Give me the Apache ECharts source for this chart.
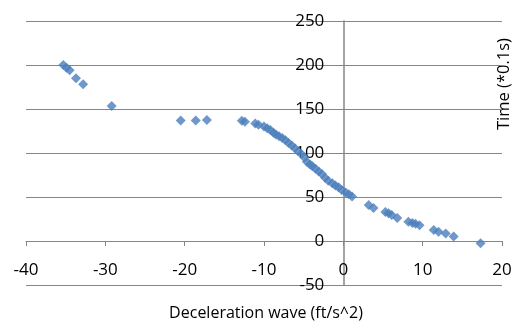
<!DOCTYPE html>
<html>
<head>
<meta charset="utf-8">
<script src="https://cdn.jsdelivr.net/npm/echarts@6/dist/echarts.min.js"></script>
<style>html,body{margin:0;padding:0;background:#fff;}#c{width:516px;height:329px;}</style>
</head>
<body>
<div id="c"></div>
<script>
// Deceleration wave (ft/s^2)
const decel = [
  -35.3, -34.9, -34.5, -33.7, -32.8, -29.2,
  -20.5, -18.6, -17.2,
  -12.8, -12.4, -11.1, -10.7, -10.0,
  -9.6, -9.2, -8.8, -8.5, -8.1, -7.7, -7.3, -6.9, -6.5, -6.1,
  -5.7, -5.3, -4.9,
  -4.6, -4.2, -3.9, -3.5, -3.1, -2.7, -2.3, -1.9,
  -1.4, -1.0, -0.6, -0.2, 0.3, 0.7, 1.1,
  3.2, 3.8, 5.3, 5.7, 6.1, 6.8,
  8.2, 8.7, 9.1, 9.6,
  11.4, 12.0, 12.9, 13.9, 17.3
];
// Time (*0.1s)
const timeVals = [
  200, 197, 194, 185, 178, 153.5,
  137, 137, 137.5,
  136.7, 135.5, 133.5, 132, 130,
  128, 126, 123, 121, 119, 117, 114.5, 111.5, 108.5, 105.5,
  102, 99, 95,
  90, 87, 85, 82, 79, 76, 72, 68.5,
  65.5, 63, 61, 58, 55, 53, 50.5,
  41, 37.5, 33, 31.5, 29.5, 26,
  22, 20.5, 19.5, 18,
  12.5, 10.6, 8.5, 5, -2.6
];
const xTicks = { min: -40, max: 20, interval: 10 };
const yTicks = { min: -50, max: 250, interval: 50 };
const xTitle = 'Deceleration wave (ft/s^2)';
const yTitle = 'Time (*0.1s)';

const points = decel.map((x, i) => [x, timeVals[i]]);
const FONT = 'Open Sans';
const W = 516, H = 329;
const G = { left: 26, right: 14, top: 21, bottom: 44 };
// axis crossing positions computed from the scales (value 0 on each axis)
const plotW = W - G.left - G.right, plotH = H - G.top - G.bottom;
const yAxisOffset = -plotW * (0 - xTicks.min) / (xTicks.max - xTicks.min);
const xAxisOffset = -plotH * (0 - yTicks.min) / (yTicks.max - yTicks.min);

const chart = echarts.init(document.getElementById('c'), null, { renderer: 'canvas' });
chart.setOption({
  animation: false,
  backgroundColor: '#ffffff',
  grid: { left: G.left, right: G.right, top: G.top, bottom: G.bottom, containLabel: false, outerBoundsMode: 'none' },
  xAxis: {
    type: 'value', min: xTicks.min, max: xTicks.max, interval: xTicks.interval,
    position: 'bottom', offset: xAxisOffset,
    axisLine: { show: true, onZero: false, lineStyle: { color: '#868686', width: 1 } },
    axisTick: { show: true, length: 5, lineStyle: { color: '#868686' } },
    splitLine: { show: false },
    axisLabel: { color: '#000', fontFamily: FONT, fontSize: 17, margin: 21 }
  },
  yAxis: {
    type: 'value', min: yTicks.min, max: yTicks.max, interval: yTicks.interval,
    position: 'left', offset: yAxisOffset,
    axisLine: { show: true, onZero: false, lineStyle: { color: '#868686', width: 1.5 } },
    axisTick: { show: false },
    splitLine: { show: true, lineStyle: { color: '#868686', width: 1 } },
    axisLabel: { show: true, color: '#000', fontFamily: FONT, fontSize: 17, margin: 19 }
  },
  graphic: [
    { type: 'text', x: 266, y: 313,
      style: { text: xTitle, fill: '#000', font: '16px "Open Sans"', align: 'center', verticalAlign: 'middle' } },
    { type: 'text', x: 504, y: 84, rotation: Math.PI / 2,
      style: { text: yTitle, fill: '#000', font: '16.5px "Open Sans"', align: 'center', verticalAlign: 'middle' } }
  ],
  series: [{
    type: 'scatter',
    data: points,
    symbol: 'diamond',
    symbolSize: 10,
    itemStyle: { color: '#4A7EBB' }
  }]
});
</script>
</body>
</html>
